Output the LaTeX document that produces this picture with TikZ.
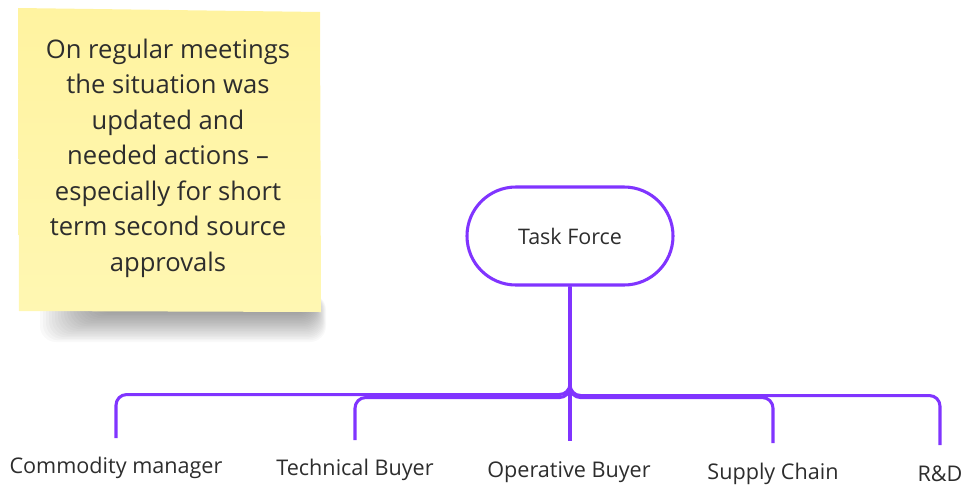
\documentclass[tikz,border=0pt]{standalone}
\usepackage{fontspec}
\setmainfont{Open Sans}
\definecolor{linkpurple}{RGB}{128,52,255}
\definecolor{notetop}{RGB}{255,243,160}
\definecolor{notebottom}{RGB}{255,247,178}
\definecolor{inktext}{RGB}{45,45,45}
\tikzset{
  conn/.style={draw=linkpurple, line width=2.3pt, rounded corners=8pt},
  pill/.style={draw=linkpurple, line width=2.3pt, fill=white,
    minimum width=154.5pt, minimum height=73.5pt, rounded corners=36.7pt,
    font=\fontsize{16.1}{19}\selectfont, text=inktext},
  lbl/.style={font=\fontsize{16.2}{19}\selectfont, text=inktext, inner sep=0pt},
  notetext/.style={align=center, text=inktext, font=\fontsize{19.2}{26.6}\selectfont}
}
\begin{document}
\begin{tikzpicture}[x=0.75pt,y=-0.75pt]
\useasboundingbox (0,0) rectangle (963,486);

% soft shadow under the sticky note
\foreach \i in {0,...,19}
  \fill[black, opacity=0.022, rounded corners=12pt]
    (40+\i*3,294) rectangle (326-\i*0.7,342-\i*1.6);

% sticky note
\shade[top color=notetop, bottom color=notebottom]
  (18,8) -- (320,12) -- (321,312) -- (19,311) -- cycle;
\node[notetext] (note) at (168,158)
  {On regular meetings\\the situation was\\updated and\\needed actions --\\especially for short\\term second source\\approvals};

% hub
\node[pill] (tf) at (570,236) {Task Force};

% team members
\node[lbl] (cm) at (116,468) {Commodity manager};
\node[lbl] (tb) at (355,470) {Technical Buyer};
\node[lbl] (ob) at (569,472) {Operative Buyer};
\node[lbl] (sc) at (773,474) {Supply Chain};
\node[lbl] (rd) at (940,474) {R\&D};

\coordinate (e1) at (116,438);
\coordinate (e2) at (355,440);
\coordinate (e3) at (570,441);
\coordinate (e4) at (773,443);
\coordinate (e5) at (940,445);

% branches
\draw[conn] (tf.south) -- ++(0,108) -| (e1);
\draw[conn] (tf.south) -- ++(0,111) -| (e2);
\draw[conn] (tf.south) -- (e3);
\draw[conn] (tf.south) -- ++(0,111) -| (e4);
\draw[conn] (tf.south) -- ++(0,109) -| (e5);
\end{tikzpicture}
\end{document}
